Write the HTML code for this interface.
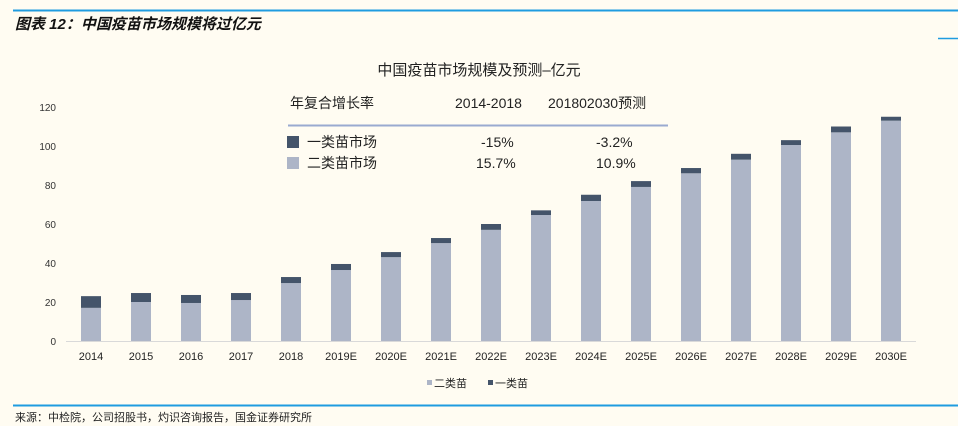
<!DOCTYPE html>
<html><head><meta charset="utf-8"><style>
body{margin:0;background:#fffcf2;}
svg{display:block;font-family:"Liberation Sans","Noto Sans CJK SC",sans-serif;}
</style></head><body>
<svg width="958" height="426" xmlns="http://www.w3.org/2000/svg">
<rect width="958" height="426" fill="#fffcf2"/>
<line x1="13" y1="10.5" x2="958" y2="10.5" stroke="#1f9ce0" stroke-width="2"/>
<line x1="938" y1="38.5" x2="958" y2="38.5" stroke="#1f9ce0" stroke-width="1.5"/>
<text x="15" y="29" font-size="15" font-weight="bold" font-style="italic" fill="#111">图表 12：中国疫苗市场规模将过亿元</text>
<text x="479" y="75" font-size="15" text-anchor="middle" fill="#222">中国疫苗市场规模及预测–亿元</text>
<g font-size="10" fill="#333" text-anchor="end">
<text x="56" y="111">120</text><text x="56" y="150">100</text><text x="56" y="189">80</text>
<text x="56" y="228">60</text><text x="56" y="267">40</text><text x="56" y="306">20</text><text x="56" y="345">0</text>
</g>
<line x1="66" y1="341.5" x2="916" y2="341.5" stroke="#d9d9d9" stroke-width="1"/>
<g fill="#adb5c7">
<rect x="81" y="307.85" width="20" height="33.15"/>
<rect x="131" y="302" width="20" height="39"/>
<rect x="181" y="302.98" width="20" height="38.02"/>
<rect x="231" y="300.05" width="20" height="40.95"/>
<rect x="281" y="283.09" width="20" height="57.91"/>
<rect x="331" y="270.02" width="20" height="70.98"/>
<rect x="381" y="257.15" width="20" height="83.85"/>
<rect x="431" y="243.11" width="20" height="97.89"/>
<rect x="481" y="229.85" width="20" height="111.15"/>
<rect x="531" y="215.03" width="20" height="125.97"/>
<rect x="581" y="200.99" width="20" height="140.01"/>
<rect x="631" y="186.95" width="20" height="154.05"/>
<rect x="681" y="173.3" width="20" height="167.7"/>
<rect x="731" y="159.65" width="20" height="181.35"/>
<rect x="781" y="145.03" width="20" height="195.97"/>
<rect x="831" y="132.35" width="20" height="208.65"/>
<rect x="881" y="120.65" width="20" height="220.35"/>
</g>
<g fill="#44546a">
<rect x="81" y="296.15" width="20" height="11.7"/>
<rect x="131" y="293.03" width="20" height="8.97"/>
<rect x="181" y="294.98" width="20" height="8"/>
<rect x="231" y="293.03" width="20" height="7.02"/>
<rect x="281" y="277.04" width="20" height="6.05"/>
<rect x="331" y="263.98" width="20" height="6.04"/>
<rect x="381" y="252.08" width="20" height="5.07"/>
<rect x="431" y="238.04" width="20" height="5.07"/>
<rect x="481" y="224" width="20" height="5.85"/>
<rect x="531" y="210.35" width="20" height="4.68"/>
<rect x="581" y="194.75" width="20" height="6.24"/>
<rect x="631" y="181.1" width="20" height="5.85"/>
<rect x="681" y="168.04" width="20" height="5.26"/>
<rect x="731" y="153.8" width="20" height="5.85"/>
<rect x="781" y="140.15" width="20" height="4.88"/>
<rect x="831" y="126.5" width="20" height="5.85"/>
<rect x="881" y="116.75" width="20" height="3.9"/>
</g>
<g font-size="11" text-anchor="middle" fill="#222">
<text x="91" y="360">2014</text><text x="141" y="360">2015</text><text x="191" y="360">2016</text>
<text x="241" y="360">2017</text><text x="291" y="360">2018</text><text x="341" y="360">2019E</text>
<text x="391" y="360">2020E</text><text x="441" y="360">2021E</text><text x="491" y="360">2022E</text>
<text x="541" y="360">2023E</text><text x="591" y="360">2024E</text><text x="641" y="360">2025E</text>
<text x="691" y="360">2026E</text><text x="741" y="360">2027E</text><text x="791" y="360">2028E</text>
<text x="841" y="360">2029E</text><text x="891" y="360">2030E</text>
</g>
<g font-size="14" fill="#222">
<text x="290" y="108">年复合增长率</text>
<text x="455" y="108">2014-2018</text>
<text x="548" y="108">201802030预测</text>
<line x1="288" y1="125.5" x2="668" y2="125.5" stroke="#9aaad0" stroke-width="2"/>
<rect x="287" y="136" width="12" height="12" fill="#44546a"/>
<text x="307" y="147">一类苗市场</text>
<text x="481" y="147">-15%</text>
<text x="596" y="147">-3.2%</text>
<rect x="287" y="157" width="12" height="12" fill="#adb5c7"/>
<text x="307" y="168">二类苗市场</text>
<text x="476" y="168">15.7%</text>
<text x="596" y="168">10.9%</text>
</g>
<rect x="427" y="380" width="5" height="5" fill="#adb5c7"/>
<text x="434" y="387" font-size="11" fill="#222">二类苗</text>
<rect x="488" y="380" width="5" height="5" fill="#44546a"/>
<text x="495" y="387" font-size="11" fill="#222">一类苗</text>
<line x1="13" y1="405.5" x2="958" y2="405.5" stroke="#1f9ce0" stroke-width="2"/>
<text x="15" y="421" font-size="11" fill="#222">来源：中检院，公司招股书，灼识咨询报告，国金证券研究所</text>
</svg>
</body></html>
